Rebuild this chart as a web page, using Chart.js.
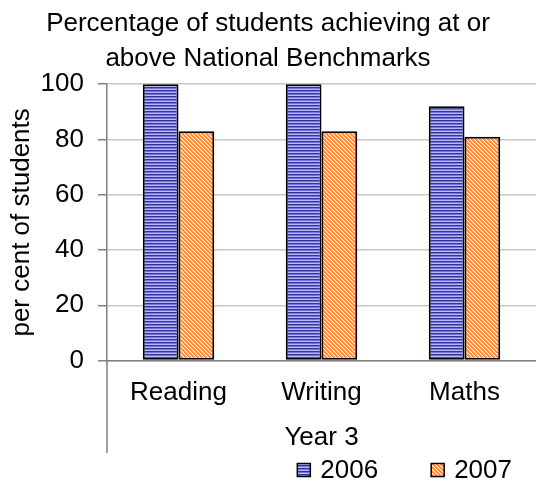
<!DOCTYPE html>
<html lang="en">
<head>
    <meta charset="UTF-8">
    <title>Percentage of students achieving at or above National Benchmarks</title>
    <script src="https://cdn.jsdelivr.net/npm/chart.js"></script>
    <style>
        html, body { margin: 0; padding: 0; background: #fff; }
        #wrap { width: 536px; height: 483px; }
    </style>
</head>
<body>
    <div id="wrap"><canvas id="myChart"></canvas></div>

    <script>
        // chart data
        const categories = ['Reading', 'Writing', 'Maths'];
        const seriesNames = ['2006', '2007'];
        const values2006 = [100, 100, 92];
        const values2007 = [83, 83, 81];
        const yMin = 0, yMax = 100, yStep = 20;

        const FONT = "'Liberation Sans', Arial, sans-serif";

        // small tiles used as fill patterns (like the Excel hatch fills)
        function makePattern(w, h, paint) {
            const c = document.createElement('canvas');
            c.width = w; c.height = h;
            paint(c.getContext('2d'));
            return c.getContext('2d').createPattern(c, 'repeat');
        }
        const bluePattern = makePattern(1, 3, g => {
            g.fillStyle = '#333399'; g.fillRect(0, 0, 1, 1);
            g.fillStyle = '#7474dc'; g.fillRect(0, 1, 1, 1);
            g.fillStyle = '#b8b8ff'; g.fillRect(0, 2, 1, 1);
        });
        const orangePattern = makePattern(4, 4, g => {
            g.fillStyle = '#ffffff'; g.fillRect(0, 0, 4, 4);
            g.fillStyle = '#ff8a33';
            for (let y = 0; y < 4; y++) {
                for (let x = 0; x < 4; x++) {
                    if ((x + 4 - y) % 4 < 2) g.fillRect(x, y, 1, 1);
                }
            }
            g.fillStyle = '#ffb27a';
            for (let y = 0; y < 4; y++) g.fillRect((y + 2) % 4, y, 1, 1);
        });

        // the value axis line carries on down past the category labels
        const axisExtension = {
            id: 'axisExtension',
            afterDraw(chart) {
                const { ctx, chartArea, scales } = chart;
                ctx.save();
                ctx.strokeStyle = '#808080';
                ctx.lineWidth = 1.5;
                ctx.beginPath();
                ctx.moveTo(chartArea.left, chartArea.bottom);
                ctx.lineTo(chartArea.left, scales.x.bottom);
                ctx.stroke();
                ctx.restore();
            }
        };

        // legend in the bottom right corner, wide gap between the items
        const cornerLegend = {
            id: 'cornerLegend',
            afterDraw(chart) {
                const ctx = chart.ctx;
                const sets = chart.data.datasets;
                ctx.save();
                ctx.font = '26px ' + FONT;
                ctx.textBaseline = 'middle';
                ctx.textAlign = 'left';
                const y = chart.height - 13;
                let right = chart.width - 24;
                for (let i = sets.length - 1; i >= 0; i--) {
                    const tw = ctx.measureText(sets[i].label).width;
                    const textX = right - tw;
                    const boxX = textX - 10 - 13;
                    ctx.fillStyle = sets[i].backgroundColor;
                    ctx.fillRect(boxX, y - 6.5, 13, 13);
                    ctx.strokeStyle = '#000';
                    ctx.lineWidth = 1.5;
                    ctx.strokeRect(boxX, y - 6.5, 13, 13);
                    ctx.fillStyle = '#000';
                    ctx.fillText(sets[i].label, textX, y + 1);
                    right = boxX - 53;
                }
                ctx.restore();
            }
        };

        const ctx = document.getElementById('myChart').getContext('2d');
        const myChart = new Chart(ctx, {
            type: 'bar',
            data: {
                labels: categories,
                datasets: [
                    {
                        label: seriesNames[0],
                        data: values2006,
                        backgroundColor: bluePattern,
                        borderColor: '#000',
                        borderWidth: 2,
                        borderSkipped: false,
                        clip: false,
                        categoryPercentage: 0.5,
                        barPercentage: 1.0
                    },
                    {
                        label: seriesNames[1],
                        data: values2007,
                        backgroundColor: orangePattern,
                        borderColor: '#000',
                        borderWidth: 2,
                        borderSkipped: false,
                        clip: false,
                        categoryPercentage: 0.5,
                        barPercentage: 1.0
                    }
                ]
            },
            plugins: [axisExtension, cornerLegend],
            options: {
                responsive: true,
                maintainAspectRatio: false,
                animation: false,
                layout: { padding: { left: 0, right: 0, top: 0, bottom: 30 } },
                scales: {
                    x: {
                        grid: { display: false, drawTicks: false },
                        border: { display: true, color: '#808080', width: 1.5 },
                        ticks: {
                            color: '#000',
                            font: { family: FONT, size: 26 },
                            padding: 17,
                            maxRotation: 0
                        },
                        title: {
                            display: true,
                            text: 'Year 3',
                            color: '#000',
                            font: { family: FONT, size: 26 },
                            padding: { top: -4, bottom: 0 }
                        }
                    },
                    y: {
                        min: yMin,
                        max: yMax,
                        ticks: {
                            stepSize: yStep,
                            color: '#000',
                            font: { family: FONT, size: 26 },
                            padding: 14
                        },
                        grid: {
                            color: '#c8c8c8',
                            lineWidth: 1.5,
                            tickColor: '#808080',
                            tickLength: 9
                        },
                        border: { display: true, color: '#808080', width: 1.5 },
                        title: {
                            display: true,
                            text: 'per cent of students',
                            color: '#000',
                            font: { family: FONT, size: 26 },
                            padding: { top: 6, bottom: 2 }
                        },
                        afterFit(scale) { scale.width = 107; }
                    }
                },
                plugins: {
                    legend: { display: false },
                    tooltip: { enabled: false },
                    title: {
                        display: true,
                        text: ['Percentage of students achieving at or', 'above National Benchmarks'],
                        color: '#000',
                        font: { family: FONT, size: 26, weight: 'normal', lineHeight: 1.35 },
                        padding: { top: 6, bottom: 8 }
                    }
                }
            }
        });
    </script>
</body>
</html>
